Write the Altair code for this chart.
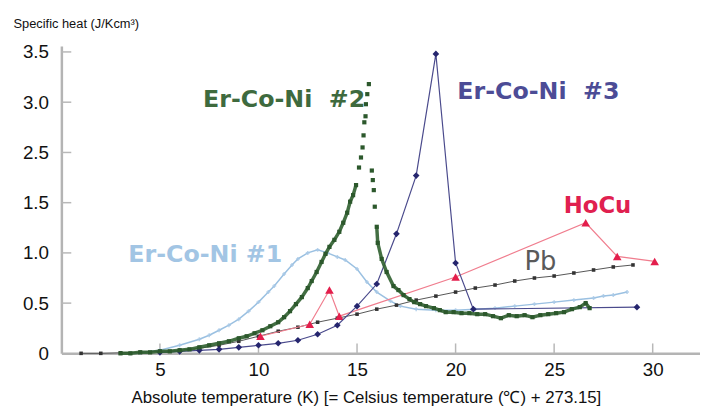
import altair as alt
import pandas as pd

# ---------------- data ----------------
x_ticks = [5, 10, 15, 20, 25, 30]
y_ticks = [0, 0.5, 1.0, 1.5, 2.5, 3.0, 3.5]

# Er-Co-Ni #1 (light blue)
e1_T = [3.5, 4.0, 5.0, 6.0, 7.0, 7.5, 8.0, 8.5, 9.0, 9.5, 10.0, 10.5, 10.8, 11.3, 11.7, 12.0, 12.5, 13.0,
        13.5, 14.0, 14.4, 15.0, 15.5, 16.0, 16.7, 17.2, 18.0, 19.0, 20.0, 21.0, 22.0, 23.0, 24.0, 25.0,
        26.0, 27.0, 27.5, 28.0, 28.7]
e1_V = [0.0, 0.005, 0.03, 0.08, 0.14, 0.18, 0.23, 0.28, 0.34, 0.42, 0.51, 0.61, 0.67, 0.79, 0.88, 0.94, 1.0, 1.03,
        1.0, 0.96, 0.93, 0.84, 0.71, 0.61, 0.52, 0.47, 0.44, 0.43, 0.43, 0.44, 0.45, 0.47, 0.49, 0.51,
        0.53, 0.55, 0.57, 0.58, 0.61]

# Pb
pb_T = list(range(1, 30))
pb_V = [0.0, 0.0, 0.005, 0.01, 0.02, 0.03, 0.05, 0.08, 0.12, 0.17, 0.22, 0.26, 0.31, 0.35, 0.39, 0.44,
        0.48, 0.53, 0.57, 0.61, 0.65, 0.68, 0.72, 0.75, 0.77, 0.80, 0.83, 0.86, 0.88]

# HoCu
ho_T = [10.1, 12.6, 13.6, 14.1, 20.0, 26.6, 28.2, 30.1]
ho_V = [0.17, 0.29, 0.63, 0.37, 0.76, 1.30, 0.965, 0.915]

# Er-Co-Ni #3
e3_T = [5, 6, 7, 8, 9, 10, 11, 12, 13, 14, 15, 16, 17, 18, 19, 20, 20.9, 29.2]
e3_V = [0.01, 0.02, 0.03, 0.04, 0.06, 0.08, 0.10, 0.13, 0.19, 0.28, 0.47, 0.69, 1.19, 2.04, 3.48, 0.90, 0.44, 0.46]

# Er-Co-Ni #2 (green) rising and falling branches
e2r_T = [3.0, 3.5, 4.0, 4.5, 5.0, 5.5, 6.0, 6.5, 7.0, 7.5, 8.0, 8.5, 9.0, 9.4, 9.8, 10.2, 10.6, 11.0, 11.3,
         11.6, 11.9, 12.2, 12.5, 12.7, 12.95, 13.2, 13.4, 13.6, 13.85, 14.1, 14.3, 14.5, 14.65, 14.8, 14.95,
         15.1, 15.2, 15.28, 15.33, 15.37, 15.43, 15.45, 15.52, 15.6]
e2r_V = [0.0, 0.0, 0.01, 0.01, 0.02, 0.02, 0.03, 0.04, 0.06, 0.08, 0.10, 0.12, 0.15, 0.17, 0.20, 0.23, 0.27,
         0.31, 0.36, 0.42, 0.49, 0.56, 0.65, 0.72, 0.81, 0.91, 0.99, 1.06, 1.13, 1.21, 1.30, 1.40, 1.52, 1.65,
         1.85, 2.20, 2.40, 2.55, 2.67, 2.80, 2.86, 2.98, 3.08, 3.18]
e2f_T = [15.75, 15.8, 15.85, 15.9, 16.0, 16.05, 16.25, 16.5, 16.85, 17.1, 17.36, 17.66, 17.9, 18.2, 18.5, 18.9,
         19.2, 19.5, 19.9, 20.3, 20.7, 21.1, 21.5, 21.9, 22.3, 22.7, 23.1, 23.5, 23.9, 24.3, 24.7, 25.1, 25.5,
         25.9, 26.3, 26.6, 26.8]
e2f_V = [2.14, 1.95, 1.75, 1.46, 1.26, 1.10, 0.94, 0.81, 0.67, 0.63, 0.58, 0.54, 0.51, 0.49, 0.47, 0.45,
         0.43, 0.41, 0.41, 0.40, 0.40, 0.39, 0.39, 0.37, 0.35, 0.38, 0.37, 0.38, 0.36, 0.38, 0.39, 0.40, 0.41,
         0.44, 0.46, 0.50, 0.45]

# series labels (non-breaking space keeps the wide gap)
lab_text = ["Er-Co-Ni\u00a0\u00a0#2", "Er-Co-Ni\u00a0\u00a0#3", "HoCu", "Pb", "Er-Co-Ni\u00a0#1"]
lab_T = [11.3, 24.2, 27.2, 24.3, 7.3]
lab_V = [3.02, 3.10, 1.47, 0.91, 0.98]
lab_col = ["#3e6a3e", "#4c4c96", "#e0204f", "#5a5a5a", "#a2c5e4"]
lab_size = [24, 24, 23, 26, 24]
lab_bold = [True, True, True, False, True]

# ---------------- chart ----------------
W, H = 646, 311
xs = alt.Scale(domain=[0, 32.4], nice=False, zero=False)
ys = alt.Scale(domain=[0, 1.5, 2.5, 3.56], range=[H, H - 152.4, H - 203.2, 0], nice=False, zero=False)

AX = "Liberation Sans"

x_axis = alt.Axis(values=x_ticks, grid=False, tickSize=0, labelPadding=7, labelFont=AX, labelFontSize=19,
                  labelColor="#111", domainColor="#b4b4b4", domainWidth=2.5,
                  title="Absolute temperature (K) [= Celsius temperature (℃) + 273.15]",
                  titleFont=AX, titleFontSize=17, titleFontWeight="normal", titleColor="#111",
                  titlePadding=11, titleX=308, titleAlign="center")
y_axis = alt.Axis(values=y_ticks, grid=False, tickSize=0, labelPadding=13, labelFont=AX, labelFontSize=19,
                  labelColor="#111", domainColor="#b4b4b4", domainWidth=2.5,
                  labelExpr="datum.value == 0 ? '0' : format(datum.value, '.1f')",
                  title="Specific heat (J/Kcm³)", titleFont=AX, titleFontSize=13,
                  titleFontWeight="normal", titleColor="#111", titleAngle=0, titleAlign="left",
                  titleBaseline="middle", titleX=-49, titleY=-23)


def X(field="T"):
    return alt.X(f"{field}:Q", scale=xs, axis=x_axis)


def Y(field="V"):
    return alt.Y(f"{field}:Q", scale=ys, axis=y_axis)


df_e1 = pd.DataFrame({"T": e1_T, "V": e1_V})
df_pb = pd.DataFrame({"T": pb_T, "V": pb_V})
df_ho = pd.DataFrame({"T": ho_T, "V": ho_V})
df_e3 = pd.DataFrame({"T": e3_T, "V": e3_V})
df_e2 = pd.concat([pd.DataFrame({"T": e2r_T, "V": e2r_V, "seg": "rise"}),
                   pd.DataFrame({"T": e2f_T, "V": e2f_V, "seg": "fall"})], ignore_index=True)
df_e2_line = df_e2[((df_e2.seg == "rise") & (df_e2["T"] <= 14.95)) |
                   ((df_e2.seg == "fall") & (df_e2["T"] >= 16.0))]
df_lab = pd.DataFrame({"text": lab_text, "T": lab_T, "V": lab_V, "col": lab_col,
                       "size": lab_size, "bold": lab_bold})

ytick_df = pd.DataFrame({"V": y_ticks[1:]})
xtick_df = pd.DataFrame({"T": x_ticks})

layers = []
# axis tick marks pointing inward
layers.append(alt.Chart(ytick_df).mark_rule(color="#b8b8b8", strokeWidth=1.5).encode(
    y=Y(), x=alt.value(0), x2=alt.value(10)))
layers.append(alt.Chart(xtick_df).mark_rule(color="#b8b8b8", strokeWidth=1.5).encode(
    x=X(), y=alt.value(H), y2=alt.value(H - 10)))

# Er-Co-Ni #1
layers.append(alt.Chart(df_e1).mark_line(color="#8fb9de", strokeWidth=1.5, opacity=0.9).encode(x=X(), y=Y()))
layers.append(alt.Chart(df_e1).mark_point(shape="cross", filled=True, size=16, color="#a8c8e6", opacity=0.8)
              .encode(x=X(), y=Y()))
# Pb
layers.append(alt.Chart(df_pb).mark_line(color="#555555", strokeWidth=1).encode(x=X(), y=Y()))
layers.append(alt.Chart(df_pb).mark_point(shape="square", filled=True, size=13, color="#333333", opacity=1)
              .encode(x=X(), y=Y()))
# HoCu
layers.append(alt.Chart(df_ho).mark_line(color="#f07d8e", strokeWidth=1.2).encode(x=X(), y=Y()))
layers.append(alt.Chart(df_ho).mark_point(shape="triangle-up", filled=True, size=75, color="#e31e4c", opacity=1)
              .encode(x=X(), y=Y()))
# Er-Co-Ni #3
layers.append(alt.Chart(df_e3).mark_line(color="#4a4a8c", strokeWidth=1.2).encode(x=X(), y=Y()))
layers.append(alt.Chart(df_e3).mark_point(shape="diamond", filled=True, size=45, color="#25256e", opacity=1)
              .encode(x=X(), y=Y()))
# Er-Co-Ni #2
layers.append(alt.Chart(df_e2_line).mark_line(color="#2f5f2f", strokeWidth=3.5, opacity=0.9)
              .encode(x=X(), y=Y(), detail="seg:N"))
layers.append(alt.Chart(df_e2).mark_point(shape="square", filled=True, size=18, color="#2c582c", opacity=1)
              .encode(x=X(), y=Y()))
# labels
for is_bold, weight in [(True, "bold"), (False, "normal")]:
    layers.append(alt.Chart(df_lab[df_lab.bold == is_bold]).mark_text(
        font="DejaVu Sans", fontWeight=weight, align="center", baseline="middle").encode(
        x=X(), y=Y(), text="text:N",
        color=alt.Color("col:N", scale=None),
        size=alt.Size("size:Q", scale=None)))

chart = alt.layer(*layers).properties(
    width=W, height=H,
    autosize=alt.AutoSizeParams(type="none"),
    padding={"left": 54, "top": 36, "right": 0, "bottom": 57},
    background="white",
).configure_view(stroke=None)

chart.save("out.html", embed_options={"renderer": "svg", "actions": False})
